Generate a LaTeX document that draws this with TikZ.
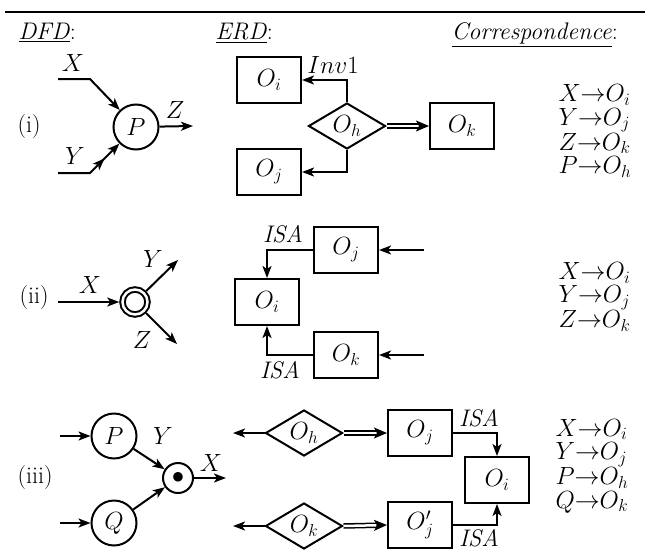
\documentclass[tikz,border=0pt]{standalone}
\usetikzlibrary{
    arrows.meta,
    positioning,
    shapes.geometric
}

\begin{document}
\begin{tikzpicture}[
        x=1pt, y=-1pt,
        every node/.style={font=\fontsize{24pt}{23.5pt}\selectfont},
        proc/.style={
            circle,
            draw,
            line width=2pt,
            minimum size=45pt,
            inner sep=0pt
        },
        store/.style={
            circle,
            draw,
            double,
            double distance=2.5pt,
            line width=2pt,
            minimum size=25pt,
            inner sep=0pt,
            outer sep=3.25pt
        },
        junction/.style={
            circle,
            draw,
            line width=2pt,
            minimum size=30pt,
            inner sep=0pt
        },
        ent/.style={
            rectangle,
            draw,
            line width=2pt,
            minimum width=64pt,
            minimum height=46pt,
            inner sep=0pt
        },
        rel/.style={
            diamond,
            draw,
            line width=2pt,
            aspect=1.6,
            minimum width=77pt,
            minimum height=46pt,
            inner sep=0pt
        },
        arrow/.style={
            -{Stealth[length=12pt,width=9pt,inset=3pt]},
            line width=2pt
        },
        twoheads/.style={
            -{Stealth[length=12pt,width=9pt,inset=3pt,sep=9pt]
              Stealth[length=12pt,width=9pt,inset=3pt]},
            line width=2pt
        },
        dbl/.style={
            double,
            double distance=2.5pt,
            line width=1.5pt,
            shorten >=10pt
        },
        dbltip/.style={
            -{Stealth[length=13pt,width=11pt,inset=3pt]},
            line width=1.5pt,
            shorten <=33pt
        },
        head/.style={anchor=base west},
        corr/.style={anchor=west, align=left}
    ]

    \useasboundingbox (0,0) rectangle (647,551);

    % header
    \coordinate (ruleL) at (5,12);
    \coordinate (ruleR) at (645,12);
    \draw[line width=2pt] (ruleL) -- (ruleR);
    \node[head] (dfd) at (15,40) {\underline{\textit{DFD}}:};
    \node[head] (erd) at (212,40) {\underline{\textit{ERD}}:};
    \node[head] (corrhead) at (448,40) {\underline{\textit{Correspondence}}:};

    % (i)
    \node[anchor=west] (case1) at (14,127) {(i)};
    \node[proc] (p1) at (136,127) {$P$};
    \coordinate (xin1) at (58,79);
    \coordinate (xbend1) at (90,79);
    \coordinate (yin1) at (58,173);
    \coordinate (ybend1) at (90,173);
    \coordinate (zout1) at (193,126);
    \draw[arrow] (xin1) -- (xbend1) -- (p1);
    \draw[twoheads] (yin1) -- (ybend1) -- (p1);
    \draw[arrow] (p1) -- (zout1);
    \node (x1) at (73,63) {$X$};
    \node (y1) at (75,156) {$Y$};
    \node (z1) at (175,110) {$Z$};

    \node[ent] (oi1) at (269,80) {$O_i$};
    \node[ent] (oj1) at (269,172) {$O_j$};
    \node[rel] (oh1) at (347,126) {$O_h$};
    \node[ent] (ok1) at (462,126) {$O_k$};
    \draw[arrow] (oh1.north) |- (oi1.east);
    \draw[arrow] (oh1.south) |- (oj1.east);
    \draw[dbl] (oh1.east) -- (ok1.west);
    \draw[dbltip] (oh1.east) -- (ok1.west);
    \node (inv1) at (333,65) {$Inv1$};

    \node[corr] (corr1) at (555,131)
        {$X{\to}O_i$\\$Y{\to}O_j$\\$Z{\to}O_k$\\$P{\to}O_h$};

    % (ii)
    \node[anchor=west] (case2) at (16,298) {(ii)};
    \node[store] (s2) at (135,302) {};
    \coordinate (xin2) at (58,302);
    \coordinate (yout2) at (178,260);
    \coordinate (zout2) at (177,344);
    \draw[arrow] (xin2) -- (s2);
    \draw[arrow] (s2) -- (yout2);
    \draw[arrow] (s2) -- (zout2);
    \node (x2) at (90,285) {$X$};
    \node (y2) at (153,259) {$Y$};
    \node (z2) at (142,340) {$Z$};

    \node[ent] (oi2) at (267,302) {$O_i$};
    \node[ent] (oj2) at (346,250) {$O_j$};
    \node[ent] (ok2) at (346,355) {$O_k$};
    \coordinate (jin2) at (424,250);
    \coordinate (kin2) at (424,355);
    \draw[arrow] (oj2.west) -| (oi2.north);
    \draw[arrow] (ok2.west) -| (oi2.south);
    \draw[arrow] (jin2) -- (oj2.east);
    \draw[arrow] (kin2) -- (ok2.east);
    \node (isa2a) at (283,234) {\textit{ISA}};
    \node (isa2b) at (280,370) {\textit{ISA}};

    \node[corr] (corr2) at (555,297)
        {$X{\to}O_i$\\$Y{\to}O_j$\\$Z{\to}O_k$};

    % (iii)
    \node[anchor=west] (case3) at (14,478) {(iii)};
    \node[proc] (p3) at (114,436) {$P$};
    \node[proc] (q3) at (114,523) {$Q$};
    \node[junction] (j3) at (178,478) {$\bullet$};
    \coordinate (pin3) at (60,436);
    \coordinate (qin3) at (60,523);
    \coordinate (xout3) at (226,478);
    \draw[arrow] (pin3) -- (p3);
    \draw[arrow] (qin3) -- (q3);
    \draw[arrow] (p3) -- (j3);
    \draw[arrow] (q3) -- (j3);
    \draw[arrow] (j3) -- (xout3);
    \node (y3) at (163,436) {$Y$};
    \node (x3) at (211,463) {$X$};

    \node[rel] (oh3) at (304,433) {$O_h$};
    \node[rel] (ok3) at (304,526) {$O_k$};
    \node[ent] (oj3) at (420,433) {$O_j$};
    \node[ent] (ojp3) at (420,525) {$O'_j$};
    \node[ent] (oi3) at (497,480) {$O_i$};
    \coordinate (hout3) at (233,433);
    \coordinate (kout3) at (233,526);
    \draw[arrow] (oh3.west) -- (hout3);
    \draw[arrow] (ok3.west) -- (kout3);
    \draw[dbl] (oh3.east) -- (oj3.west);
    \draw[dbltip] (oh3.east) -- (oj3.west);
    \draw[dbl] (ok3.east) -- (ojp3.west);
    \draw[dbltip] (ok3.east) -- (ojp3.west);
    \draw[arrow] (oj3.east) -| (oi3.north);
    \draw[arrow] (ojp3.east) -| (oi3.south);
    \node (isa3a) at (479,418) {\textit{ISA}};
    \node (isa3b) at (479,538) {\textit{ISA}};

    \node[corr] (corr3) at (552,466)
        {$X{\to}O_i$\\$Y{\to}O_j$\\$P{\to}O_h$\\$Q{\to}O_k$};

\end{tikzpicture}
\end{document}
